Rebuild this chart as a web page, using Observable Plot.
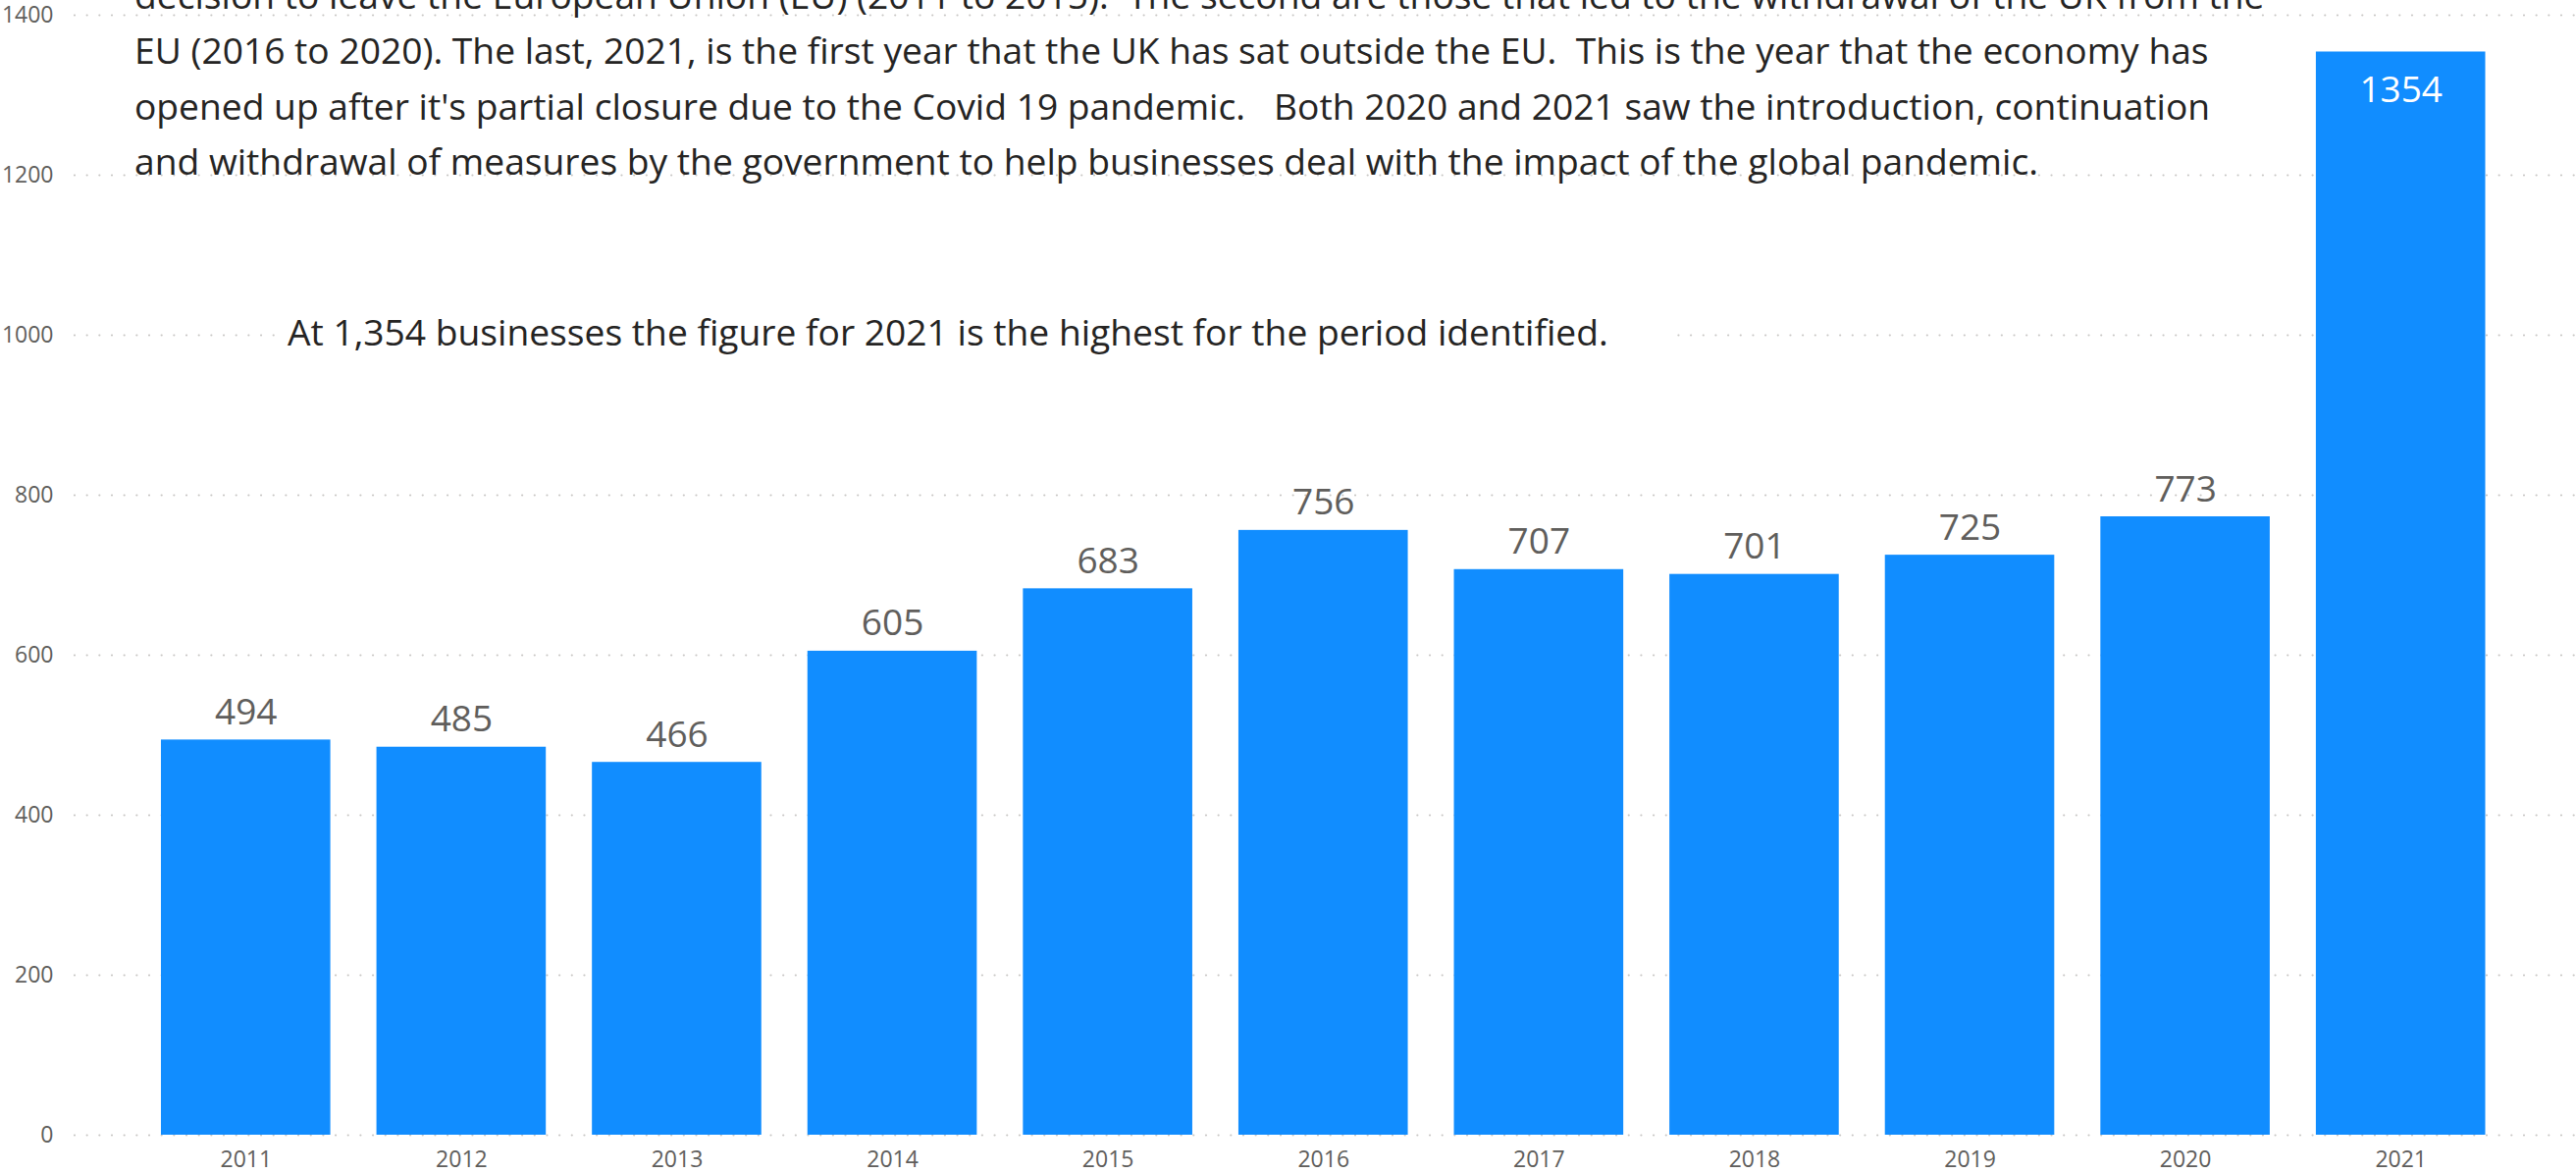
<!DOCTYPE html>
<html>
<head>
<meta charset="utf-8">
<script src="https://cdn.jsdelivr.net/npm/d3@7"></script>
<script src="https://cdn.jsdelivr.net/npm/@observablehq/plot@0.6"></script>
<style>
  html, body { margin: 0; padding: 0; background: #fff; }
  #wrap { position: relative; width: 2625px; height: 1195px; overflow: hidden; background: #fff; }
  #chart { position: absolute; left: 0; top: 0; }
  .note { position: absolute; font-family: "Segoe UI", "Open Sans", sans-serif; color: #252423; white-space: pre; }
  #para { left: 137px; top: -33px; font-size: 37.2px; line-height: 56.3px; }
  #highlight { left: 280px; top: 302px; width: 1420px; height: 72px; background: #fff; font-size: 37.2px; line-height: 72px; padding-left: 13px; box-sizing: border-box; }
</style>
</head>
<body>
<div id="wrap">
  <div id="chart"></div>
  <div id="para" class="note"></div>
  <div id="highlight" class="note"></div>
</div>
<script>
// Data
const years = ["2011","2012","2013","2014","2015","2016","2017","2018","2019","2020","2021"];
const businesses = [494, 485, 466, 605, 683, 756, 707, 701, 725, 773, 1354];
const yTicks = [0, 200, 400, 600, 800, 1000, 1200, 1400];
const paragraphLines = [
  "decision to leave the European Union (EU) (2011 to 2015).  The second are those that led to the withdrawal of the UK from the",
  "EU (2016 to 2020). The last, 2021, is the first year that the UK has sat outside the EU.  This is the year that the economy has",
  "opened up after it's partial closure due to the Covid 19 pandemic.   Both 2020 and 2021 saw the introduction, continuation",
  "and withdrawal of measures by the government to help businesses deal with the impact of the global pandemic."
];
const highlightText = "At 1,354 businesses the figure for 2021 is the highest for the period identified.";

const data = years.map((y, i) => ({year: y, value: businesses[i]}));
const yMax = 1400;
const inside = d => d.value > yMax * 0.93;

const font = "'Segoe UI', 'Open Sans', sans-serif";
const gray = "#605E5C";

const chart = Plot.plot({
  width: 2625,
  height: 1195,
  marginTop: 15,
  marginBottom: 39,
  marginLeft: 76,
  marginRight: 0,
  style: {fontFamily: font, background: "transparent", overflow: "visible"},
  x: {domain: years, paddingInner: 0.214, paddingOuter: 0.107, insetLeft: 64.5, insetRight: 69, round: false, label: null},
  y: {domain: [0, yMax], label: null},
  marks: [
    Plot.gridY(yTicks, {stroke: "#C8C6C4", strokeOpacity: 1, strokeWidth: 2.2, strokeDasharray: "0,12.67", strokeLinecap: "round"}),
    Plot.barY(data, {x: "year", y: "value", fill: "#118DFF"}),
    Plot.axisY({ticks: yTicks, tickFormat: d => String(d), tickSize: 0, tickPadding: 22, fontSize: 23, fill: gray, label: null}),
    Plot.axisX({tickSize: 0, tickPadding: 16, fontSize: 23, fill: gray, label: null}),
    Plot.text(data.filter(d => !inside(d)), {x: "year", y: "value", text: d => String(d.value), lineAnchor: "bottom", dy: -16, fontSize: 37, fill: gray}),
    Plot.text(data.filter(inside), {x: "year", y: "value", text: d => String(d.value), lineAnchor: "top", dy: 25, fontSize: 37, fill: "#ffffff"})
  ]
});
document.getElementById("chart").appendChild(chart);
document.getElementById("para").textContent = paragraphLines.join("\n");
document.getElementById("highlight").textContent = highlightText;
</script>
</body>
</html>
